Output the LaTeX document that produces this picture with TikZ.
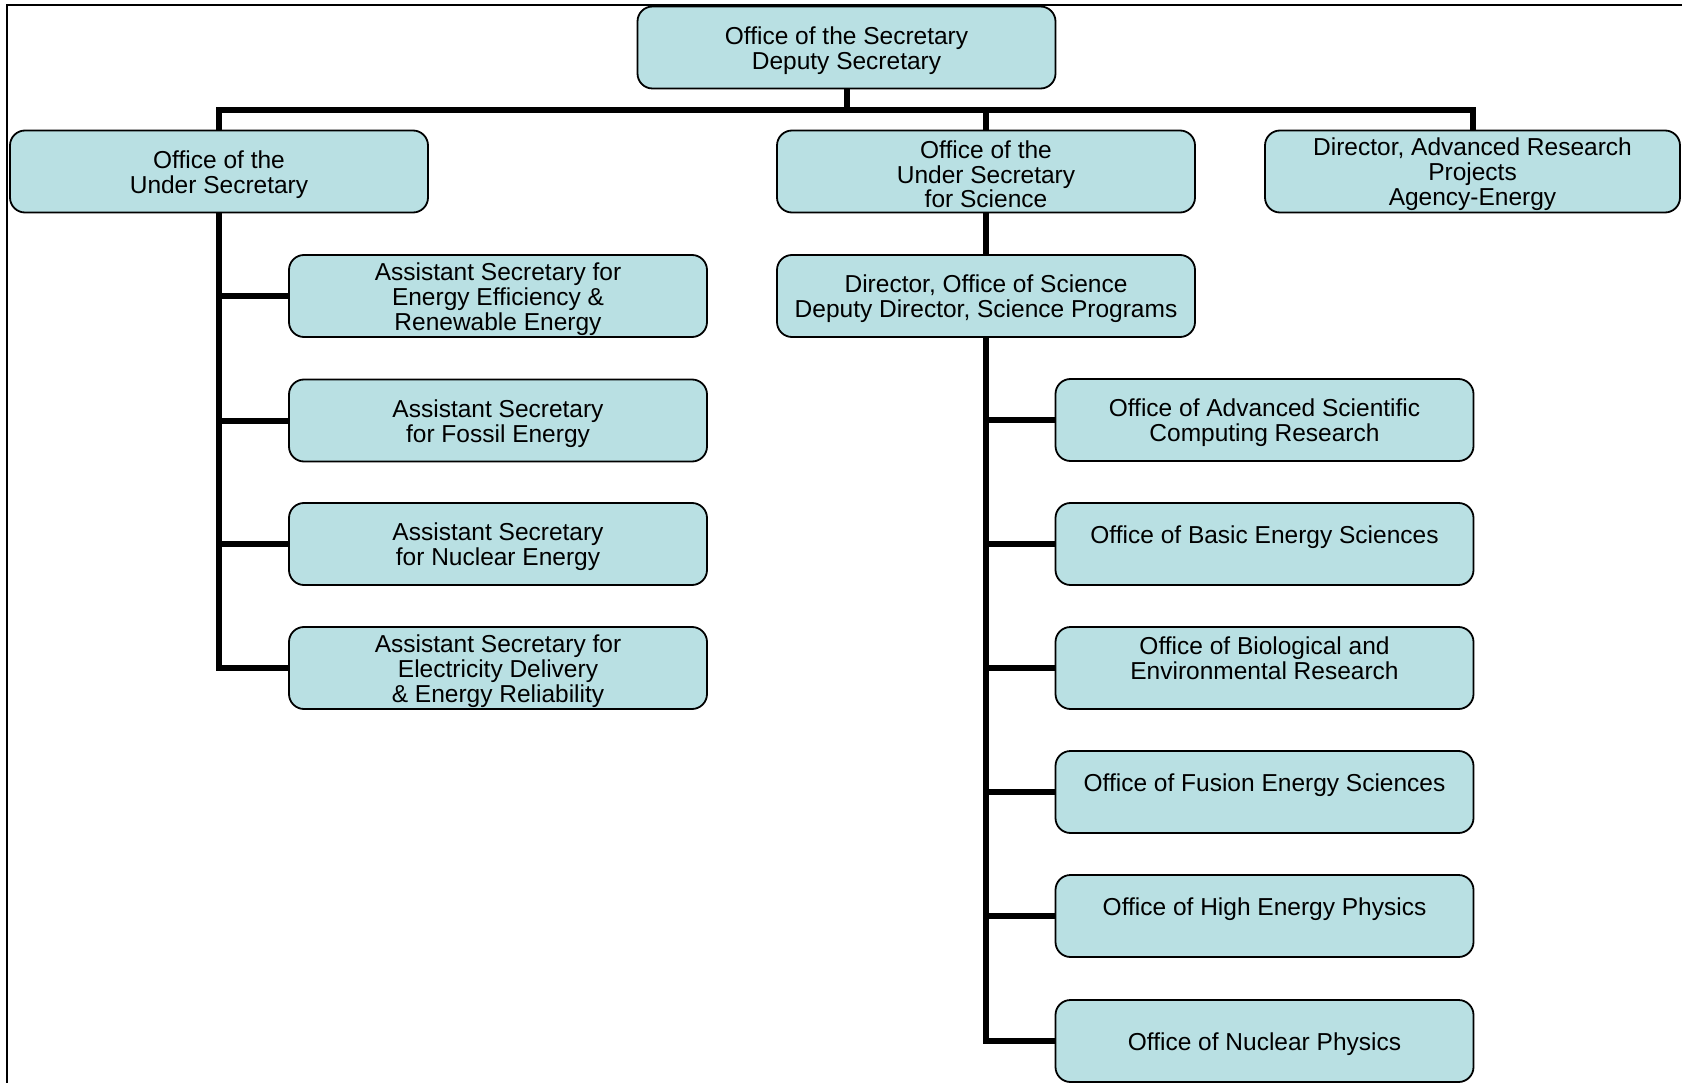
\documentclass[tikz,border=0pt]{standalone}
\usepackage{fontspec}
\setmainfont{Liberation Sans}
\definecolor{boxblue}{RGB}{185,224,227}
\newcommand\toppad{\rule{0pt}{23.5pt}}
\begin{document}
\begin{tikzpicture}[x=1pt,y=-1pt,
  orgbox/.style={draw=black, line width=1.8pt, fill=boxblue, rounded corners=15pt,
    minimum width=418pt, minimum height=82pt, align=center, inner sep=0pt,
    font=\fontsize{24.5}{24.8}\selectfont},
  conn/.style={line width=6pt, line join=miter}]
\useasboundingbox (0,0) rectangle (1682,1083);
\fill[white] (0,0) rectangle (1682,1083);
\draw[line width=2pt] (7,1083) -- (7,5) -- (1682,5);

\node[orgbox] (top) at (846.5,47.5) {\toppad Office of the Secretary\\Deputy Secretary};
\node[orgbox] (US) at (219,171.5) {\toppad Office of the\\Under Secretary};
\node[orgbox] (USS) at (986,171.5) {\toppad Office of the\\Under Secretary\\for Science};
\node[orgbox, minimum width=415pt] (ARPA) at (1472.5,171.5) {\toppad Director, Advanced Research\\Projects\\Agency-Energy};

\node[orgbox] (a1) at (498,296) {\toppad Assistant Secretary for\\Energy Efficiency \&\\Renewable Energy};
\node[orgbox] (a2) at (498,420.5) {\toppad Assistant Secretary\\for Fossil Energy};
\node[orgbox] (a3) at (498,544) {\toppad Assistant Secretary\\for Nuclear Energy};
\node[orgbox] (a4) at (498,668) {\toppad Assistant Secretary for\\Electricity Delivery\\\& Energy Reliability};

\node[orgbox] (dir) at (986,296) {\toppad Director, Office of Science\\Deputy Director, Science Programs};

\node[orgbox] (s1) at (1264.5,420) {\toppad Office of Advanced Scientific\\Computing Research};
\node[orgbox] (s2) at (1264.5,544) {\toppad Office of Basic Energy Sciences\\\mbox{}};
\node[orgbox] (s3) at (1264.5,668) {\toppad Office of Biological and\\Environmental Research\\\mbox{}};
\node[orgbox] (s4) at (1264.5,792) {\toppad Office of Fusion Energy Sciences\\\mbox{}};
\node[orgbox] (s5) at (1264.5,916) {\toppad Office of High Energy Physics\\\mbox{}};
\node[orgbox] (s6) at (1264.5,1041) {\toppad Office of Nuclear Physics};

\coordinate (bus) at (846.5,110);
\draw[conn] (top.south) -- (bus);
\draw[conn] (US.north) |- (bus) -| (ARPA.north);
\draw[conn] (bus) -| (USS.north);
\draw[conn] (USS.south) -- (dir.north);

\draw[conn] (US.south) |- (a4.west);
\foreach \n in {a1,a2,a3} \draw[conn] (US.south |- \n.west) -- (\n.west);

\draw[conn] (dir.south) |- (s6.west);
\foreach \n in {s1,s2,s3,s4,s5} \draw[conn] (dir.south |- \n.west) -- (\n.west);
\end{tikzpicture}
\end{document}
